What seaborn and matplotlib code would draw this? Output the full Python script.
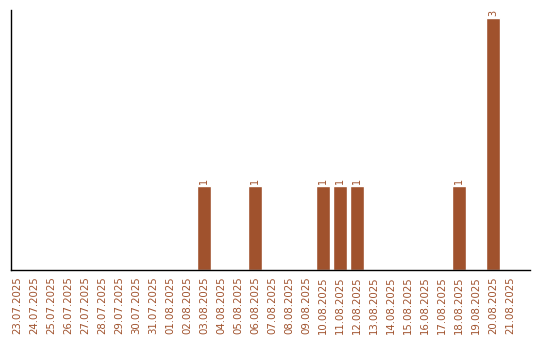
import matplotlib
matplotlib.use("Agg")
import matplotlib.pyplot as plt
import seaborn as sns
import pandas as pd

dates = ["23.07.2025", "24.07.2025", "25.07.2025", "26.07.2025", "27.07.2025",
         "28.07.2025", "29.07.2025", "30.07.2025", "31.07.2025", "01.08.2025",
         "02.08.2025", "03.08.2025", "04.08.2025", "05.08.2025", "06.08.2025",
         "07.08.2025", "08.08.2025", "09.08.2025", "10.08.2025", "11.08.2025",
         "12.08.2025", "13.08.2025", "14.08.2025", "15.08.2025", "16.08.2025",
         "17.08.2025", "18.08.2025", "19.08.2025", "20.08.2025", "21.08.2025"]
counts = [0, 0, 0, 0, 0, 0, 0, 0, 0, 0,
          0, 1, 0, 0, 1, 0, 0, 0, 1, 1,
          1, 0, 0, 0, 0, 0, 1, 0, 3, 0]

color = "#a0522d"
df = pd.DataFrame({"date": dates, "count": counts})

sns.set_style("white")
fig = plt.figure(figsize=(5.4, 3.4), dpi=100)
ax = fig.add_axes([11 / 540, 70 / 340, 519 / 540, 260 / 340])

sns.barplot(data=df, x="date", y="count", color=color, saturation=1,
            width=0.82, ax=ax)

for patch, val in zip(ax.patches, counts):
    if val > 0:
        ax.text(patch.get_x() + patch.get_width() / 2, val + 0.03, str(val),
                rotation=90, ha="center", va="bottom", fontsize=7, color=color)

ax.set_xlim(-0.353, 30.18)
ax.set_ylim(0, 3.1)
ax.set_xlabel("")
ax.set_ylabel("")
ax.set_yticks([])
ax.tick_params(axis="x", length=0, pad=4.5, labelsize=7.3, labelcolor=color,
               labelrotation=90)
for lbl in ax.get_xticklabels():
    lbl.set_va("top")

for side in ["top", "right"]:
    ax.spines[side].set_visible(False)
for side in ["left", "bottom"]:
    ax.spines[side].set_color("black")
    ax.spines[side].set_linewidth(1)

fig.savefig("out.png", dpi=100)
